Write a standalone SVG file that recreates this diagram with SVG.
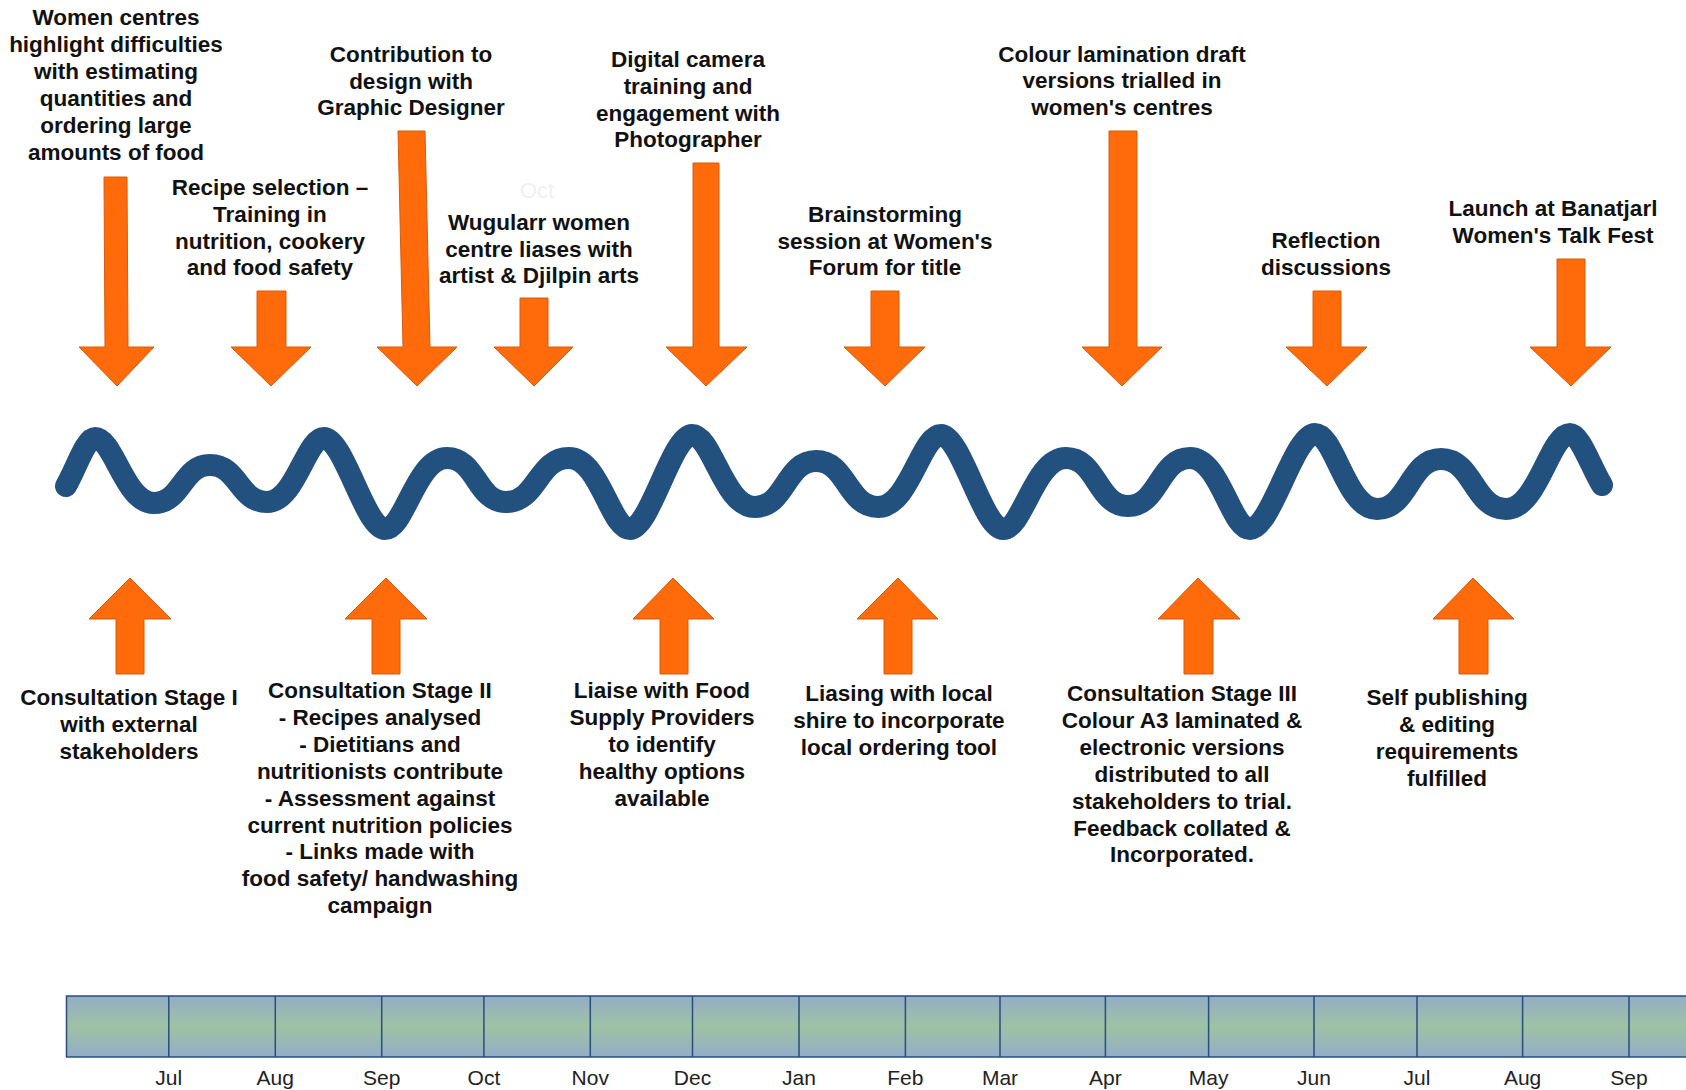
<svg xmlns="http://www.w3.org/2000/svg" width="1686" height="1090" viewBox="0 0 1686 1090">
<defs>
<linearGradient id="barGrad" x1="0" y1="0" x2="0" y2="1">
<stop offset="0" stop-color="#93adc7"/>
<stop offset="0.5" stop-color="#9ec2a4"/>
<stop offset="1" stop-color="#93adc7"/>
</linearGradient>
</defs>
<style>
.lbl{font-family:"Liberation Sans",Arial,sans-serif;font-weight:bold;font-size:22.5px;fill:#111;text-anchor:middle}
.mon{font-family:"Liberation Sans",Arial,sans-serif;font-size:21px;fill:#222;text-anchor:middle}
.ghost{font-family:"Liberation Sans",Arial,sans-serif;font-size:22px;fill:#f0f0f0;text-anchor:middle}
.arr{fill:#ff6a0a;stroke:#d65c0c;stroke-width:1}
.wave{fill:none;stroke:#22507f;stroke-width:22;stroke-linecap:round;stroke-linejoin:round}
.div{stroke:#2b4d7a;stroke-width:1.5}
</style>
<rect width="1686" height="1090" fill="#ffffff"/>

<g id="wave">
<path class="wave" d="M66,486 C76,469 85.7,438 95,438 C113.9,438 124.5,503 154,503 C182,503 182,465 210,465 C238.5,465 238.5,502 267,502 C295.5,502 305.8,438 324,438 C343.5,438 365.5,529 385,529 C404.8,529 416,458 447,458 C476.5,458 476.5,502 506,502 C537.5,502 537.5,458 569,458 C599.5,458 610.5,529 630,529 C649.8,529 672.2,435 692,435 C712.2,435 723.5,507 755,507 C785.5,507 785.5,461 816,461 C847,461 847,507 878,507 C909.5,507 920.8,435 941,435 C960.8,435 983.2,529 1003,529 C1023.2,529 1034.5,458 1066,458 C1097,458 1097,506 1128,506 C1159,506 1159,458 1190,458 C1220,458 1230.8,529 1250,529 C1270.8,529 1294.2,434 1315,434 C1334.8,434 1346,509 1377,509 C1409,509 1409,459 1441,459 C1473.5,459 1473.5,509 1506,509 C1538,509 1549.5,434 1570,434 C1580,434 1591,467 1602,485"/>
</g>

<g id="timeline-bar">
<rect x="66.5" y="996" width="1640" height="61" fill="url(#barGrad)" stroke="#2b4d7a" stroke-width="1.5"/>
<line class="div" x1="168.8" y1="996" x2="168.8" y2="1057"/>
<line class="div" x1="275.3" y1="996" x2="275.3" y2="1057"/>
<line class="div" x1="381.7" y1="996" x2="381.7" y2="1057"/>
<line class="div" x1="483.9" y1="996" x2="483.9" y2="1057"/>
<line class="div" x1="590.3" y1="996" x2="590.3" y2="1057"/>
<line class="div" x1="692.5" y1="996" x2="692.5" y2="1057"/>
<line class="div" x1="799" y1="996" x2="799" y2="1057"/>
<line class="div" x1="905.4" y1="996" x2="905.4" y2="1057"/>
<line class="div" x1="1000" y1="996" x2="1000" y2="1057"/>
<line class="div" x1="1105.4" y1="996" x2="1105.4" y2="1057"/>
<line class="div" x1="1208.6" y1="996" x2="1208.6" y2="1057"/>
<line class="div" x1="1314" y1="996" x2="1314" y2="1057"/>
<line class="div" x1="1417" y1="996" x2="1417" y2="1057"/>
<line class="div" x1="1522.6" y1="996" x2="1522.6" y2="1057"/>
<line class="div" x1="1629" y1="996" x2="1629" y2="1057"/>
<text class="mon" x="168.8" y="1085">Jul</text>
<text class="mon" x="275.3" y="1085">Aug</text>
<text class="mon" x="381.7" y="1085">Sep</text>
<text class="mon" x="483.9" y="1085">Oct</text>
<text class="mon" x="590.3" y="1085">Nov</text>
<text class="mon" x="692.5" y="1085">Dec</text>
<text class="mon" x="799" y="1085">Jan</text>
<text class="mon" x="905.4" y="1085">Feb</text>
<text class="mon" x="1000" y="1085">Mar</text>
<text class="mon" x="1105.4" y="1085">Apr</text>
<text class="mon" x="1208.6" y="1085">May</text>
<text class="mon" x="1314" y="1085">Jun</text>
<text class="mon" x="1417" y="1085">Jul</text>
<text class="mon" x="1522.6" y="1085">Aug</text>
<text class="mon" x="1629" y="1085">Sep</text>
</g>

<g id="connectors">
<path class="arr" d="M104,177 L127,177 L128,347 L154,347 L117,386 L79,347 L105,347 Z"/>
<path class="arr" d="M257,291 L286,291 L286,347 L311,347 L271,386 L231,347 L257,347 Z"/>
<path class="arr" d="M398,131 L425,131 L430,347 L457,347 L417,386 L377,347 L403,347 Z"/>
<path class="arr" d="M520,298 L548,298 L548,347 L573,347 L534,386 L494,347 L520,347 Z"/>
<path class="arr" d="M693,163 L719,163 L719,347 L747,347 L706,386 L666,347 L693,347 Z"/>
<path class="arr" d="M871,291 L899,291 L899,347 L925,347 L885,386 L844,347 L871,347 Z"/>
<path class="arr" d="M1109,131 L1137,131 L1137,347 L1162,347 L1122,386 L1082,347 L1109,347 Z"/>
<path class="arr" d="M1313,291 L1341,291 L1341,347 L1367,347 L1327,386 L1286,347 L1313,347 Z"/>
<path class="arr" d="M1557,259 L1585,259 L1585,347 L1611,347 L1571,386 L1530,347 L1557,347 Z"/>
<path class="arr" d="M116,674 L144,674 L144,619 L171,619 L130,578 L89,619 L116,619 Z"/>
<path class="arr" d="M372,674 L400,674 L400,619 L427,619 L386,578 L345,619 L372,619 Z"/>
<path class="arr" d="M660,674 L688,674 L688,619 L714,619 L673,578 L633,619 L660,619 Z"/>
<path class="arr" d="M884,674 L912,674 L912,619 L938,619 L898,578 L857,619 L884,619 Z"/>
<path class="arr" d="M1184,674 L1213,674 L1213,619 L1240,619 L1198,578 L1158,619 L1184,619 Z"/>
<path class="arr" d="M1459,674 L1488,674 L1488,619 L1514,619 L1473,578 L1433,619 L1459,619 Z"/>
</g>

<g id="n-women-centres">
<text class="lbl" x="116" y="25">Women centres</text>
<text class="lbl" x="116" y="51.9">highlight difficulties</text>
<text class="lbl" x="116" y="78.8">with estimating</text>
<text class="lbl" x="116" y="105.7">quantities and</text>
<text class="lbl" x="116" y="132.6">ordering large</text>
<text class="lbl" x="116" y="159.5">amounts of food</text>
</g>
<g id="n-recipe">
<text class="lbl" x="270" y="195">Recipe selection –</text>
<text class="lbl" x="270" y="221.8">Training in</text>
<text class="lbl" x="270" y="248.6">nutrition, cookery</text>
<text class="lbl" x="270" y="275.4">and food safety</text>
</g>
<g id="n-contribution">
<text class="lbl" x="411" y="62">Contribution to</text>
<text class="lbl" x="411" y="88.7">design with</text>
<text class="lbl" x="411" y="115.4">Graphic Designer</text>
</g>
<g id="n-oct-ghost">
<text class="ghost" x="537" y="198">Oct</text>
</g>
<g id="n-wugularr">
<text class="lbl" x="539" y="230">Wugularr women</text>
<text class="lbl" x="539" y="256.7">centre liases with</text>
<text class="lbl" x="539" y="283.4">artist &amp; Djilpin arts</text>
</g>
<g id="n-digital">
<text class="lbl" x="688" y="67">Digital camera</text>
<text class="lbl" x="688" y="93.8">training and</text>
<text class="lbl" x="688" y="120.6">engagement with</text>
<text class="lbl" x="688" y="147.4">Photographer</text>
</g>
<g id="n-brainstorming">
<text class="lbl" x="885" y="222">Brainstorming</text>
<text class="lbl" x="885" y="248.7">session at Women's</text>
<text class="lbl" x="885" y="275.4">Forum for title</text>
</g>
<g id="n-colour-lamination">
<text class="lbl" x="1122" y="61.5">Colour lamination draft</text>
<text class="lbl" x="1122" y="88.2">versions trialled in</text>
<text class="lbl" x="1122" y="114.9">women's centres</text>
</g>
<g id="n-reflection">
<text class="lbl" x="1326" y="248">Reflection</text>
<text class="lbl" x="1326" y="274.7">discussions</text>
</g>
<g id="n-launch">
<text class="lbl" x="1553" y="216">Launch at Banatjarl</text>
<text class="lbl" x="1553" y="242.7">Women's Talk Fest</text>
</g>

<g id="n-consultation-1">
<text class="lbl" x="129" y="705">Consultation Stage I</text>
<text class="lbl" x="129" y="731.9">with external</text>
<text class="lbl" x="129" y="758.8">stakeholders</text>
</g>
<g id="n-consultation-2">
<text class="lbl" x="380" y="698">Consultation Stage II</text>
<text class="lbl" x="380" y="724.9">- Recipes analysed</text>
<text class="lbl" x="380" y="751.8">- Dietitians and</text>
<text class="lbl" x="380" y="778.7">nutritionists contribute</text>
<text class="lbl" x="380" y="805.6">- Assessment against</text>
<text class="lbl" x="380" y="832.5">current nutrition policies</text>
<text class="lbl" x="380" y="859.4">- Links made with</text>
<text class="lbl" x="380" y="886.3">food safety/ handwashing</text>
<text class="lbl" x="380" y="913.2">campaign</text>
</g>
<g id="n-liaise-food">
<text class="lbl" x="662" y="698">Liaise with Food</text>
<text class="lbl" x="662" y="724.9">Supply Providers</text>
<text class="lbl" x="662" y="751.8">to identify</text>
<text class="lbl" x="662" y="778.7">healthy options</text>
<text class="lbl" x="662" y="805.6">available</text>
</g>
<g id="n-liasing-shire">
<text class="lbl" x="899" y="701">Liasing with local</text>
<text class="lbl" x="899" y="727.9">shire to incorporate</text>
<text class="lbl" x="899" y="754.8">local ordering tool</text>
</g>
<g id="n-consultation-3">
<text class="lbl" x="1182" y="701">Consultation Stage III</text>
<text class="lbl" x="1182" y="727.9">Colour A3 laminated &amp;</text>
<text class="lbl" x="1182" y="754.8">electronic versions</text>
<text class="lbl" x="1182" y="781.7">distributed to all</text>
<text class="lbl" x="1182" y="808.6">stakeholders to trial.</text>
<text class="lbl" x="1182" y="835.5">Feedback collated &amp;</text>
<text class="lbl" x="1182" y="862.4">Incorporated.</text>
</g>
<g id="n-self-publishing">
<text class="lbl" x="1447" y="705">Self publishing</text>
<text class="lbl" x="1447" y="731.9">&amp; editing</text>
<text class="lbl" x="1447" y="758.8">requirements</text>
<text class="lbl" x="1447" y="785.7">fulfilled</text>
</g>
</svg>
